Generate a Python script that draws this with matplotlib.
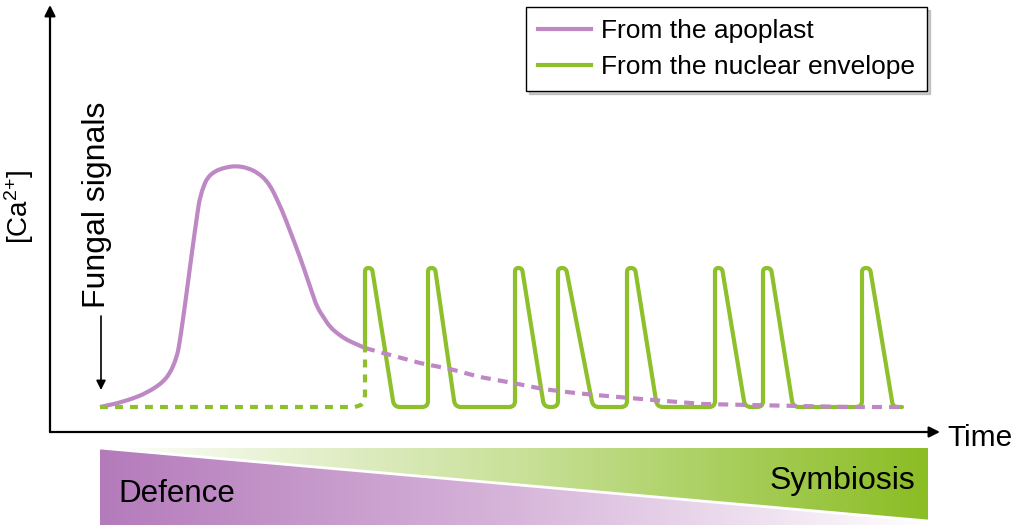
import numpy as np
import matplotlib
matplotlib.use("Agg")
import matplotlib.pyplot as plt
from matplotlib.path import Path
from matplotlib.patches import PathPatch, Polygon
from matplotlib.colors import LinearSegmentedColormap
from matplotlib.lines import Line2D

plt.rcParams['font.family'] = ['Liberation Sans', 'DejaVu Sans']
plt.rcParams['mathtext.fontset'] = 'custom'
plt.rcParams['mathtext.rm'] = 'Liberation Sans'
plt.rcParams['mathtext.it'] = 'Liberation Sans'
plt.rcParams['mathtext.default'] = 'regular'

# ---------------- data (time, [Ca2+] in arbitrary units) ----------------
apo_t = [50, 73, 97, 113, 120, 127, 130, 135, 140, 145, 150, 157, 165, 177,
         187, 198, 208, 216, 222, 232, 250, 267, 274, 280, 288, 297, 306, 315]
apo_c = [25, 30, 39, 50, 59, 75, 92, 127, 165, 202, 236, 254, 261, 265,
         266, 264, 259, 252, 243, 222, 175, 125, 114, 105, 98, 92, 88, 84]

apo_dash_t = [315, 333, 370, 400, 430, 463, 493, 525, 557, 603, 653, 700, 750, 800, 853]
apo_dash_c = [84, 79, 69, 63, 55, 49, 43, 39, 36, 32, 28, 27, 26, 25, 25]

nuc_dash_t = [50, 305, 311, 314, 315, 315]
nuc_dash_c = [25, 25, 27, 31, 37, 84]

nuc_start = (315, 84)
nuc_rise_t = [315, 378, 465, 508, 577, 665, 713, 812]
nuc_top_end_t = [322, 385, 472, 516, 585, 672, 721, 820]
nuc_fall_t = [344, 405, 494, 543, 607, 695, 743, 843]
nuc_peak = 164
nuc_base = 25
nuc_end_t = 852

legend_labels = ["From the apoplast", "From the nuclear envelope"]

purple = '#bd88c4'
green = '#8dc02a'

W, H = 1017, 525
fig = plt.figure(figsize=(W / 100, H / 100), dpi=100)

ax = fig.add_axes([50 / W, (H - 432) / H, 890 / W, 427 / H])
ax.set_xlim(0, 890)
ax.set_ylim(0, 427)
ax.axis('off')

# axes arrows
ax.annotate('', xy=(0, 1), xytext=(0, 0), xycoords='axes fraction',
            arrowprops=dict(arrowstyle='-|>', color='black', lw=1.6, mutation_scale=16,
                            shrinkA=0, shrinkB=0))
ax.annotate('', xy=(1, 0), xytext=(0, 0), xycoords='axes fraction',
            arrowprops=dict(arrowstyle='-|>', color='black', lw=1.6, mutation_scale=16,
                            shrinkA=0, shrinkB=0))


def rounded(verts, r):
    verts = np.asarray(verts, float)
    out = [verts[0]]
    codes = [Path.MOVETO]
    for i in range(1, len(verts) - 1):
        p0, p1, p2 = verts[i - 1], verts[i], verts[i + 1]
        d1 = p1 - p0
        d2 = p2 - p1
        l1 = np.hypot(*d1)
        l2 = np.hypot(*d2)
        rr = min(r, l1 / 2, l2 / 2)
        a = p1 - d1 / l1 * rr
        b = p1 + d2 / l2 * rr
        out += [a, p1, b]
        codes += [Path.LINETO, Path.CURVE3, Path.CURVE3]
    out.append(verts[-1])
    codes.append(Path.LINETO)
    return Path(out, codes)


# apoplast curve
ax.add_patch(PathPatch(rounded(list(zip(apo_t, apo_c)), 14), fill=False, edgecolor=purple,
                       lw=3, capstyle='butt', joinstyle='round'))
ax.plot(apo_dash_t, apo_dash_c, color=purple, lw=3, dashes=(2.4, 1.7))

# nuclear envelope curve
ax.plot(nuc_dash_t, nuc_dash_c, color=green, lw=3, dashes=(1.9, 1.7))
verts = [nuc_start]
for i in range(len(nuc_rise_t)):
    if i > 0:
        verts.append((nuc_rise_t[i], nuc_base))
    verts.append((nuc_rise_t[i], nuc_peak))
    verts.append((nuc_top_end_t[i], nuc_peak))
    verts.append((nuc_fall_t[i], nuc_base))
verts.append((nuc_end_t, nuc_base))
ax.add_patch(PathPatch(rounded(verts, 6), fill=False, edgecolor=green, lw=3,
                       capstyle='round', joinstyle='round'))

# fungal signals
ax.text(47, 227, 'Fungal signals', rotation=90, ha='center', va='center', fontsize=23)
ax.annotate('', xy=(51, 42), xytext=(51, 116),
            arrowprops=dict(arrowstyle='-|>', color='black', lw=1.2, mutation_scale=14,
                            shrinkA=0, shrinkB=0))

fig.text(19 / W, 1 - 207 / H, r'[Ca$^{2{+}}$]', rotation=90, ha='center', va='center', fontsize=20)
fig.text(947 / W, 1 - 446 / H, 'Time', ha='left', va='baseline', fontsize=21.5)

# legend
handles = [Line2D([], [], color=purple, lw=3), Line2D([], [], color=green, lw=3)]
leg = fig.legend(handles, legend_labels, loc='upper right',
                 bbox_to_anchor=(927 / W, 1 - 7 / H), bbox_transform=fig.transFigure,
                 frameon=True, fancybox=False, edgecolor='black', framealpha=1,
                 shadow={'ox': 2.5, 'oy': -2.5, 'color': '#9a9a9a'},
                 fontsize=19, handlelength=2.0, handletextpad=0.4, borderpad=0.45,
                 labelspacing=0.45, borderaxespad=0)
leg.get_frame().set_linewidth(1.0)

# bottom gradient bar
ax2 = fig.add_axes([100 / W, 0, 828 / W, 77 / H])
ax2.set_xlim(0, 1)
ax2.set_ylim(0, 1)
ax2.axis('off')
diag_right = 1 - (521 - 448) / 77
grad = np.linspace(0, 1, 512)[None, :]
pcmap = LinearSegmentedColormap.from_list('p', ['#b47bbb', '#d7b5da', '#ffffff'])
gcmap = LinearSegmentedColormap.from_list('g', ['#ffffff', '#c9e19a', '#8bbd24'])
ppoly = Polygon([(0, 0), (0, 1), (1, diag_right), (1, 0)], closed=True,
                facecolor='none', edgecolor='none', transform=ax2.transData)
gpoly = Polygon([(0, 1), (1, 1), (1, diag_right)], closed=True,
                facecolor='none', edgecolor='none', transform=ax2.transData)
ax2.add_patch(ppoly)
ax2.add_patch(gpoly)
im1 = ax2.imshow(grad, extent=[0, 1, 0, 1], aspect='auto', cmap=pcmap, interpolation='bilinear')
im1.set_clip_path(ppoly)
im2 = ax2.imshow(grad, extent=[0, 1, 0, 1], aspect='auto', cmap=gcmap, interpolation='bilinear')
im2.set_clip_path(gpoly)
ax2.plot([0, 1], [1, diag_right], color='white', lw=2)
ax2.set_xlim(0, 1)
ax2.set_ylim(0, 1)

fig.text(118 / W, 1 - 502 / H, 'Defence', ha='left', va='baseline', fontsize=22.5)
fig.text(915 / W, 1 - 489 / H, 'Symbiosis', ha='right', va='baseline', fontsize=23)

fig.savefig('out.png', dpi=100)
